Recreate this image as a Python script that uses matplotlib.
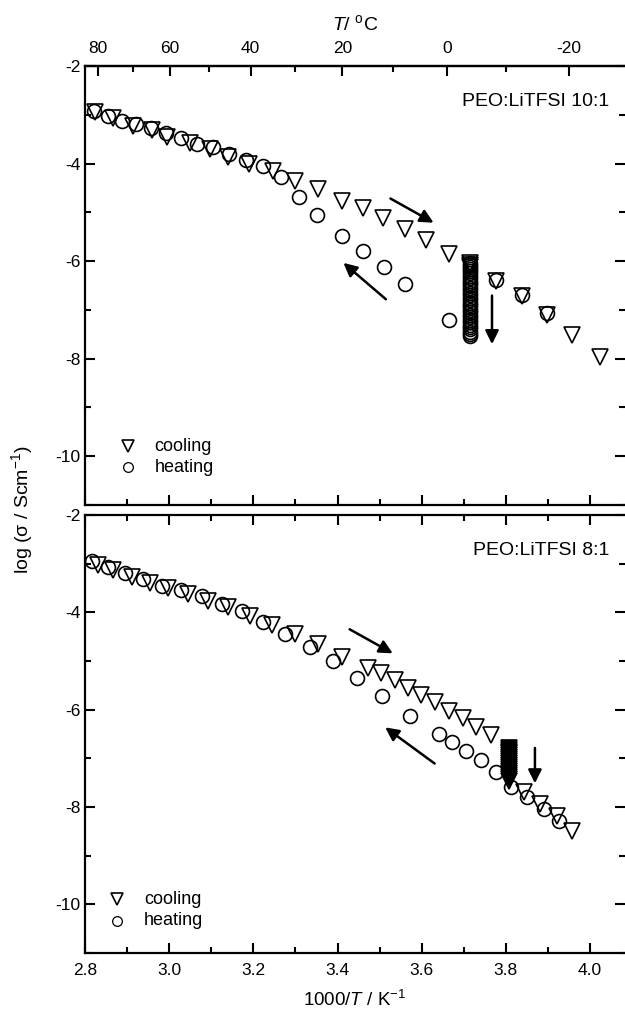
import numpy as np
import matplotlib
matplotlib.use("Agg")
import matplotlib.pyplot as plt
from matplotlib.ticker import MultipleLocator, FixedLocator

plt.rcParams['font.family'] = ['Liberation Sans', 'DejaVu Sans']
plt.rcParams['mathtext.fontset'] = 'custom'
plt.rcParams['mathtext.rm'] = 'Liberation Sans'
plt.rcParams['mathtext.it'] = 'Liberation Sans:italic'
plt.rcParams['axes.unicode_minus'] = False

# ---- PEO:LiTFSI 10:1 ----
cool10_x = [2.824, 2.866, 2.914, 2.959, 2.995, 3.050, 3.097, 3.140, 3.190, 3.246,
            3.299, 3.353, 3.410, 3.460, 3.508, 3.560, 3.610, 3.665,
            3.776, 3.838, 3.897, 3.957, 4.023]
cool10_y = [-2.94, -3.06, -3.24, -3.31, -3.45, -3.57, -3.70, -3.86, -4.02, -4.16,
            -4.35, -4.53, -4.76, -4.92, -5.12, -5.35, -5.57, -5.86,
            -6.41, -6.71, -7.10, -7.51, -7.96]
heat10_x = [2.821, 2.855, 2.888, 2.921, 2.957, 2.992, 3.028, 3.066, 3.104, 3.142,
            3.182, 3.223, 3.265, 3.308, 3.351, 3.410, 3.460, 3.510, 3.560, 3.665,
            3.776, 3.838, 3.897]
heat10_y = [-2.92, -3.02, -3.12, -3.18, -3.27, -3.37, -3.47, -3.59, -3.67, -3.80,
            -3.92, -4.06, -4.27, -4.69, -5.06, -5.49, -5.79, -6.12, -6.47, -7.20,
            -6.38, -6.69, -7.07]
# isothermal column at 1000/T = 3.714
iso10_x = 3.714
iso10_y = [-6.04, -6.08, -6.12, -6.16, -6.20, -6.25, -6.30, -6.35, -6.40, -6.45,
           -6.50, -6.55, -6.60, -6.65, -6.70, -6.75, -6.80, -6.85, -6.90, -6.95,
           -7.00, -7.05, -7.10, -7.15, -7.20, -7.25, -7.30, -7.35, -7.40, -7.45,
           -7.50, -7.54]

# ---- PEO:LiTFSI 8:1 ----
cool8_x = [2.831, 2.866, 2.912, 2.954, 2.997, 3.045, 3.092, 3.140, 3.192, 3.244,
           3.298, 3.354, 3.410, 3.472, 3.503, 3.536, 3.567, 3.598, 3.631, 3.665,
           3.698, 3.729, 3.764, 3.842, 3.881, 3.921, 3.958]
cool8_y = [-3.02, -3.12, -3.27, -3.39, -3.49, -3.63, -3.76, -3.90, -4.08, -4.27,
           -4.44, -4.66, -4.92, -5.14, -5.25, -5.39, -5.55, -5.70, -5.84, -6.02,
           -6.18, -6.35, -6.53, -7.69, -7.94, -8.18, -8.49]
heat8_x = [2.816, 2.855, 2.895, 2.938, 2.983, 3.028, 3.078, 3.125, 3.173, 3.223,
           3.276, 3.334, 3.390, 3.447, 3.505, 3.572, 3.641, 3.673, 3.705, 3.741,
           3.776, 3.813, 3.850, 3.890, 3.926]
heat8_y = [-2.95, -3.06, -3.19, -3.31, -3.45, -3.55, -3.67, -3.82, -3.98, -4.20,
           -4.45, -4.72, -5.00, -5.35, -5.72, -6.12, -6.49, -6.67, -6.84, -7.04,
           -7.29, -7.59, -7.80, -8.04, -8.29]
iso8_x = 3.807
iso8_y = [-6.78, -6.82, -6.86, -6.90, -6.94, -6.98, -7.02, -7.06, -7.10, -7.14,
          -7.18, -7.22, -7.26, -7.30, -7.34, -7.38, -7.42, -7.46]

temp_major = [80, 60, 40, 20, 0, -20]
temp_minor = [70, 50, 30, 10, -10]

fig = plt.figure(figsize=(6.25, 10.10), dpi=100)
ax1 = fig.add_axes([0.136, 0.5, 0.864, 0.4347])
ax2 = fig.add_axes([0.136, 0.0564, 0.864, 0.4337])

mk = dict(linestyle='none', mfc='none', mec='black', mew=1.2)


def style_axes(ax, top_ticks=True):
    ax.set_xlim(2.8, 4.083)
    ax.set_ylim(-11, -2)
    ax.xaxis.set_major_locator(MultipleLocator(0.2))
    ax.xaxis.set_minor_locator(MultipleLocator(0.1))
    ax.yaxis.set_major_locator(MultipleLocator(2))
    ax.yaxis.set_minor_locator(MultipleLocator(1))
    for s in ax.spines.values():
        s.set_linewidth(1.6)
    ax.spines['right'].set_visible(False)
    ax.tick_params(which='both', direction='in', top=top_ticks, right=True,
                   width=1.5, labelsize=12.5)
    ax.tick_params(which='major', length=7)
    ax.tick_params(which='minor', length=4)
    ax.tick_params(axis='x', pad=7)


style_axes(ax1, top_ticks=False)
style_axes(ax2, top_ticks=True)
ax1.tick_params(labelbottom=False)

# top panel
ax1.plot(cool10_x, cool10_y, 'v', ms=11, **mk)
ax1.plot(heat10_x, heat10_y, 'o', ms=10, **mk)
ax1.plot([iso10_x] * len(iso10_y), iso10_y, 'o', ms=10, **mk)
ax1.plot([iso10_x] * 3, iso10_y[:3], 'v', ms=11, **mk)

arr = dict(arrowstyle='-|>', lw=1.8, color='black', mutation_scale=20)
ax1.annotate('', xy=(3.634, -5.24), xytext=(3.52, -4.69), arrowprops=arr)
ax1.annotate('', xy=(3.409, -6.0), xytext=(3.52, -6.82), arrowprops=arr)
ax1.annotate('', xy=(3.767, -7.76), xytext=(3.767, -6.65), arrowprops=arr)

ax1.text(4.045, -2.72, 'PEO:LiTFSI 10:1', ha='right', va='center', fontsize=14)
ax1.plot([2.902], [-9.80], 'v', ms=8, **mk)
ax1.plot([2.902], [-10.23], 'o', ms=7, mfc='none', mec='black', mew=0.9)
ax1.text(2.965, -9.80, 'cooling', va='center', fontsize=13)
ax1.text(2.965, -10.23, 'heating', va='center', fontsize=13)

sec = ax1.secondary_xaxis('top', functions=(lambda x: 1000.0 / x - 273.15,
                                            lambda t: 1000.0 / (t + 273.15)))
sec.xaxis.set_major_locator(FixedLocator(temp_major))
sec.xaxis.set_minor_locator(FixedLocator(temp_minor))
sec.spines['top'].set_linewidth(1.6)
sec.tick_params(which='both', direction='in', width=1.5, labelsize=12.5, pad=7)
sec.tick_params(which='major', length=7)
sec.tick_params(which='minor', length=4)
sec.set_xlabel('$\\it{T}$/ $^{\\rm o}$C', fontsize=14, labelpad=8)

# bottom panel
ax2.plot(cool8_x, cool8_y, 'v', ms=11, **mk)
ax2.plot(heat8_x, heat8_y, 'o', ms=10, **mk)
ax2.plot([iso8_x] * len(iso8_y), iso8_y, 'v', ms=12, linestyle='none',
         mfc='black', mec='black', mew=1.2)

ax2.annotate('', xy=(3.537, -4.87), xytext=(3.423, -4.32), arrowprops=arr)
ax2.annotate('', xy=(3.508, -6.33), xytext=(3.636, -7.14), arrowprops=arr)
ax2.annotate('', xy=(3.869, -7.57), xytext=(3.869, -6.73), arrowprops=arr)

ax2.text(4.045, -2.72, 'PEO:LiTFSI 8:1', ha='right', va='center', fontsize=14)
ax2.plot([2.876], [-9.90], 'v', ms=8, **mk)
ax2.plot([2.876], [-10.34], 'o', ms=7, mfc='none', mec='black', mew=0.9)
ax2.text(2.94, -9.90, 'cooling', va='center', fontsize=13)
ax2.text(2.94, -10.34, 'heating', va='center', fontsize=13)
ax2.set_xlabel('1000/$\\it{T}$ / K$^{-1}$', fontsize=13.5, labelpad=9)

fig.text(0.035, 0.495, 'log (σ / Scm$^{-1}$)', rotation=90,
         ha='center', va='center', fontsize=14)

fig.savefig('out.png', dpi=100)
